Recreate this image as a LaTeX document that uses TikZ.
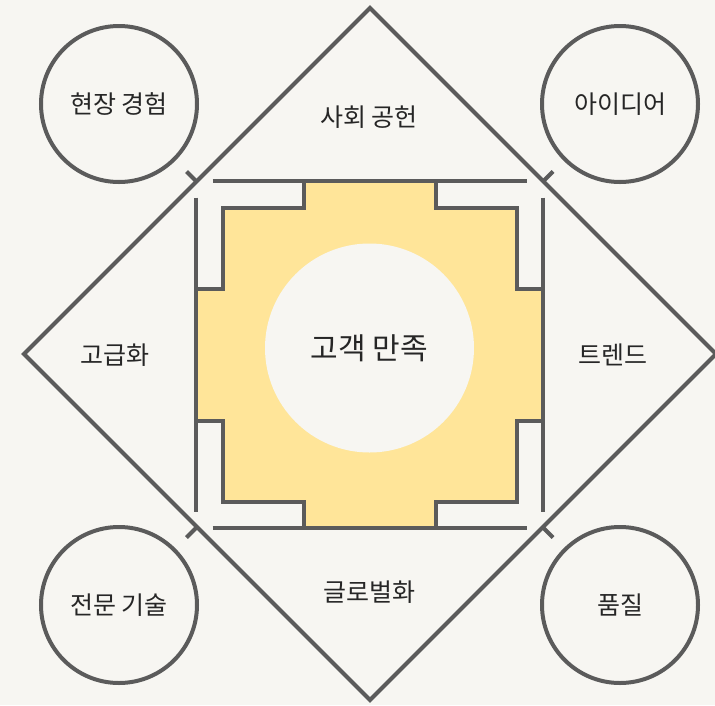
\documentclass[tikz,border=0pt]{standalone}
\usepackage{fontspec}
\newfontfamily\kr{Noto Sans CJK KR}
\definecolor{bg}{HTML}{F7F6F2}
\definecolor{ln}{HTML}{5B5B5B}
\definecolor{yl}{HTML}{FFE599}
\definecolor{tx}{HTML}{262626}
\begin{document}
\begin{tikzpicture}[x=1pt,y=-1pt,line width=4pt,
  lbl/.style={font=\kr\fontsize{25}{29}\selectfont,text=tx,inner sep=0pt},
  big/.style={font=\kr\fontsize{30}{35}\selectfont,text=tx},
  ring/.style={circle,draw=ln,line width=4pt,minimum size=156pt,inner sep=0pt,font=\kr\fontsize{25}{29}\selectfont,text=tx},
  stroke/.style={draw=ln,line width=4pt}]
\fill[bg] (0,0) rectangle (715,705);
\useasboundingbox (0,0) rectangle (715,705);
% diamond
\draw[stroke,line join=miter] (370,8) -- (716,354) -- (370,700) -- (24,354) -- cycle;
% yellow cross shape
\begin{scope}[shift={(369.5,354.5)}]
\filldraw[fill=yl,stroke,line join=miter]
  (-66,-173.5) -- (66,-173.5) -- (66,-147) -- (147,-147) -- (147,-66) -- (173.5,-66)
  -- (173.5,66) -- (147,66) -- (147,147) -- (66,147) -- (66,173.5) -- (-66,173.5)
  -- (-66,147) -- (-147,147) -- (-147,66) -- (-173.5,66) -- (-173.5,-66) -- (-147,-66)
  -- (-147,-147) -- (-66,-147) -- cycle;
\draw[stroke] (-157,-173.5) -- (157,-173.5);
\draw[stroke] (-157,173.5) -- (157,173.5);
\draw[stroke] (-173.5,-157) -- (-173.5,157);
\draw[stroke] (173.5,-157) -- (173.5,157);
\end{scope}
% center circle
\node[circle,fill=bg,minimum size=209pt,inner sep=0pt,big] (core) at (369.5,348) {고객 만족};
% diamond labels
\node[lbl] (top) at (369,117) {사회 공헌};
\node[lbl] (left) at (115,355) {고급화};
\node[lbl] (right) at (613,355) {트렌드};
\node[lbl] (bottom) at (369,592) {글로벌화};
% corner circles
\node[ring] (c1) at (119,104) {현장 경험};
\node[ring] (c2) at (620,104) {아이디어};
\node[ring] (c3) at (119,605) {전문 기술};
\node[ring] (c4) at (620,605) {품질};
% ticks
\coordinate (k1) at (196.5,181.5);
\coordinate (k2) at (543,181.5);
\coordinate (k3) at (196.5,527.5);
\coordinate (k4) at (543,527.5);
\draw[stroke] (k1) -- ++(-10,-10);
\draw[stroke] (k2) -- ++(10,-10);
\draw[stroke] (k3) -- ++(-10,10);
\draw[stroke] (k4) -- ++(10,10);
\end{tikzpicture}
\end{document}
